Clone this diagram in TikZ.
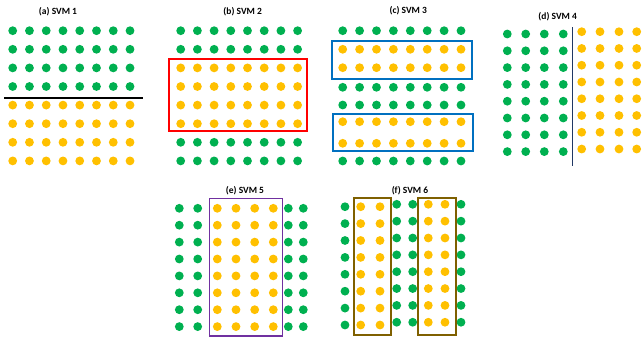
\documentclass[tikz,border=0pt]{standalone}
\usepackage{fontspec}
\setmainfont{Carlito}
\usepackage{tikz}
\definecolor{svmgreen}{HTML}{00B050}
\definecolor{svmyellow}{HTML}{FFC000}
\definecolor{svmblue}{HTML}{0070C0}
\definecolor{svmpurple}{HTML}{7030A0}
\definecolor{svmbrown}{HTML}{7F6000}
\definecolor{svmnavy}{HTML}{203864}
\begin{document}
\begin{tikzpicture}[x=1pt,y=-1pt,gdot/.style={fill=svmgreen},ydot/.style={fill=svmyellow},
  title/.style={font=\bfseries\fontsize{9.5}{11}\selectfont,inner sep=0pt}]
\useasboundingbox (0,0) rectangle (643,337);
\node[title] (ta) at (58,12) {(a) SVM 1};
\node[title] (tb) at (242.7,12) {(b) SVM 2};
\node[title] (tc) at (408.3,10.7) {(c) SVM 3};
\node[title] (td) at (557.7,16.7) {(d) SVM 4};
\node[title] (te) at (245,191) {(e) SVM 5};
\node[title] (tf) at (410,191) {(f) SVM 6};
\foreach \i in {0,...,7} {
  \foreach \j in {0,...,3} \fill[gdot] (12.7+16.76*\i,30.7+18.6*\j) circle (4.4pt);
  \foreach \j in {4,...,7} \fill[ydot] (12.7+16.76*\i,30.7+18.6*\j) circle (4.4pt);
}
\draw[line width=2pt] (4,97.7) -- (143,97.7);
\foreach \i in {0,...,7} {
  \foreach \j in {0,1,6,7} \fill[gdot] (180.7+16.7*\i,30.7+18.6*\j) circle (4.4pt);
  \foreach \j in {2,...,5} \fill[ydot] (180.7+16.7*\i,30.7+18.6*\j) circle (4.4pt);
}
\draw[red,line width=1.8pt] (169.3,59.3) rectangle (307.3,131);
\foreach \i in {0,...,7} {
  \foreach \y in {30.7,87.3,105,161} \fill[gdot] (342.7+16.9*\i,\y) circle (4.4pt);
  \foreach \y in {49.3,67.7,121.7,143.3} \fill[ydot] (342.7+16.9*\i,\y) circle (4.4pt);
}
\draw[svmblue,line width=1.8pt] (332.3,41.3) rectangle (471.7,79.3);
\draw[svmblue,line width=1.8pt] (333.3,114) rectangle (472.7,151);
\foreach \j in {0,...,7} {
  \foreach \x in {507.3,525.7,544.3,563.3} \fill[gdot] (\x,34+16.8*\j) circle (4.4pt);
  \foreach \x in {581.7,600,619,636.7} \fill[ydot] (\x,31.7+16.76*\j) circle (4.4pt);
}
\draw[svmnavy,line width=1.5pt] (572.3,27.3) -- (572.3,165.7);
\foreach \j in {0,...,7} {
  \foreach \x in {179.3,197.7,288.3,303.3} \fill[gdot] (\x,208.3+16.9*\j) circle (4.4pt);
  \foreach \x in {217.3,236,254.7,273.3} \fill[ydot] (\x,208.3+16.9*\j) circle (4.4pt);
}
\draw[svmpurple,line width=1.5pt] (209.3,198.3) rectangle (282.3,336);
\foreach \j in {0,...,7} {
  \fill[gdot] (345,206.7+16.9*\j) circle (4.4pt);
  \foreach \x in {360.7,380} \fill[ydot] (\x,206.7+16.9*\j) circle (4.4pt);
  \foreach \x in {396.7,412.7,461} \fill[gdot] (\x,204.3+16.85*\j) circle (4.4pt);
  \foreach \x in {428.3,445} \fill[ydot] (\x,204.3+16.85*\j) circle (4.4pt);
}
\draw[svmbrown,line width=1.8pt] (354.3,198.3) rectangle (391,335);
\draw[svmbrown,line width=1.8pt] (418.3,198.3) rectangle (456,335);
\end{tikzpicture}
\end{document}
